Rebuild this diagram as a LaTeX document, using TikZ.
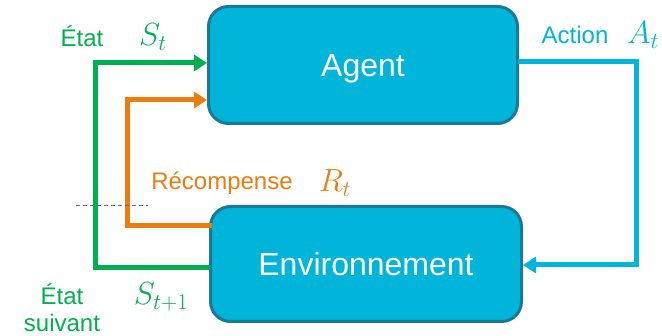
\documentclass[tikz,border=0pt]{standalone}
\usepackage{fix-cm}
\usepackage{fontspec}
\setmainfont{Liberation Sans}
\usetikzlibrary{arrows.meta}
\definecolor{cgreen}{HTML}{00B050}
\definecolor{corange}{HTML}{EC7C0E}
\definecolor{ccyan}{HTML}{00B4DC}
\definecolor{cbox}{HTML}{00B4DA}
\definecolor{cborder}{HTML}{1A7A96}
\begin{document}
\begin{tikzpicture}[x=1pt,y=-1pt,
  box/.style={draw=cborder,line width=3pt,fill=cbox,rounded corners=20pt,text=white,font=\fontsize{32}{34}\selectfont,text height=23pt,text depth=0pt},
  flow/.style={line width=5pt},
  tip/.style={-{Triangle[length=13pt,width=16pt]}},
  lbl/.style={font=\fontsize{24}{27}\selectfont,inner sep=0pt},
  mlbl/.style={font=\fontsize{32}{34}\selectfont,inner sep=0pt}]
\useasboundingbox (0,0) rectangle (662,336);
\node[box,minimum width=309pt,minimum height=117pt] (agent) at (363,65) {Agent};
\node[box,minimum width=311pt,minimum height=115pt] (env) at (366,264) {Environnement};
% green state
\coordinate (g1) at (210,268);
\coordinate (g2) at (95,268);
\coordinate (g3) at (95,63);
\draw[flow,cgreen,tip] (g1) -- (g2) -- (g3) -- (agent.west |- g3);
% orange reward
\coordinate (o1) at (212,226);
\coordinate (o2) at (127,226);
\coordinate (o3) at (127,100);
\draw[flow,corange,tip] (o1) -- (o2) -- (o3) -- (agent.west |- o3);
% cyan action
\coordinate (c1) at (518,62);
\coordinate (c2) at (636,62);
\coordinate (c3) at (636,265);
\draw[flow,ccyan,tip] (c1) -- (c2) -- (c3) -- (env.east |- c3);
% dashed
\coordinate (d1) at (76,205);
\coordinate (d2) at (148,205);
\draw[draw=gray!80!blue,line width=0.7pt,dash pattern=on 4pt off 3pt] (d1) -- (d2);
% labels
\node[lbl,text=cgreen] (etat) at (82,36) {État};
\node[mlbl,text=cgreen] (st) at (153,37) {$S_t$};
\node[lbl,text=ccyan] (action) at (575,35) {Action};
\node[mlbl,text=ccyan] (at) at (643,35) {$A_t$};
\node[lbl,text=corange] (rec) at (222,183) {Récompense};
\node[mlbl,text=corange] (rt) at (335,183) {$R_t$};
\node[lbl,text=cgreen,align=center] (suiv) at (62,308) {État\\suivant};
\node[mlbl,text=cgreen] (st1) at (161,297) {$S_{t+1}$};
\end{tikzpicture}
\end{document}
